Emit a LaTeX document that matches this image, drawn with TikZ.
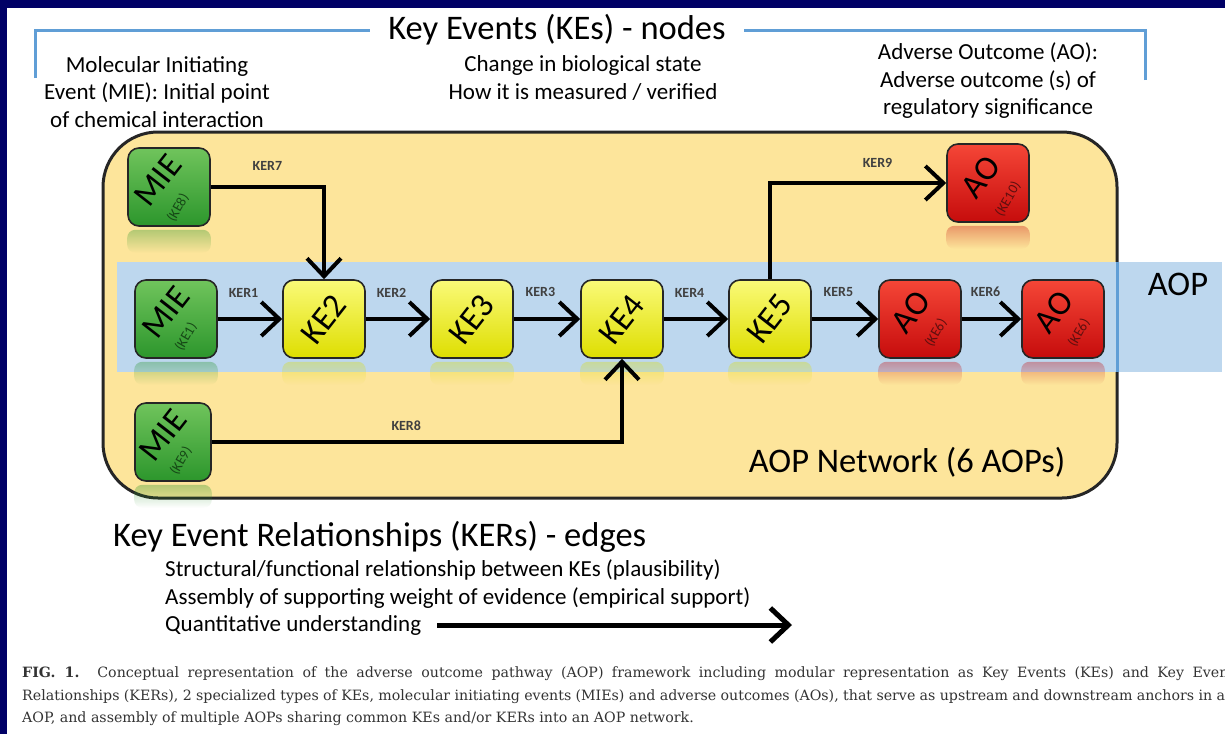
\documentclass[tikz,border=0pt]{standalone}
\usepackage{fontspec}
\setmainfont{Carlito}
\newfontfamily\capfont{DejaVu Serif}
\usetikzlibrary{arrows.meta,fadings}

\definecolor{navyframe}{RGB}{0,0,102}
\definecolor{netyellow}{RGB}{253,229,155}
\definecolor{aopblue}{RGB}{189,215,238}
\definecolor{bracketblue}{RGB}{96,158,214}
\definecolor{mietop}{RGB}{112,196,92}
\definecolor{miebot}{RGB}{44,150,44}
\definecolor{miedark}{RGB}{22,72,22}
\definecolor{ketop}{RGB}{250,250,120}
\definecolor{kebot}{RGB}{222,222,0}
\definecolor{aotop}{RGB}{245,70,55}
\definecolor{aobot}{RGB}{198,12,12}
\definecolor{aodark}{RGB}{95,15,15}

\tikzset{
  event/.style={draw=black!85, line width=1.6pt, rounded corners=11pt,
    minimum width=82pt, minimum height=78pt, inner sep=0pt},
  mienode/.style={event, top color=mietop, bottom color=miebot},
  kenode/.style={event, top color=ketop, bottom color=kebot},
  aonode/.style={event, top color=aotop, bottom color=aobot},
  bigtag/.style={rotate=52, inner sep=0pt, font=\fontsize{34}{34}\selectfont},
  smalltag/.style={rotate=60, inner sep=0pt, font=\fontsize{14}{14}\selectfont},
  reflect/.style={fill=#1, opacity=0.35, path fading=south, rounded corners=8pt},
  ker/.style={line width=4pt, -{Straight Barb[length=18pt,width=34pt]}},
  kerlbl/.style={inner sep=0pt, text=black!75, font=\fontsize{14}{14}\selectfont\bfseries},
  heading/.style={inner sep=0pt, font=\fontsize{34.5}{34.5}\selectfont},
  subtext/.style={align=center, inner sep=0pt, font=\fontsize{23}{27.5}\selectfont},
  bracket/.style={draw=bracketblue, line width=3pt},
  caption/.style={inner sep=0pt, text=black!80, font=\capfont\fontsize{14.2}{14.2}\selectfont},
}

\begin{document}
\begin{tikzpicture}[x=1pt, y=-1pt]
\path[clip] (0,0) rectangle (1225,734);
\fill[white] (0,0) rectangle (1225,734);
\fill[navyframe] (0,0) rectangle (1225,8);
\fill[navyframe] (0,0) rectangle (7,734);

% key events heading
\node[heading, inner xsep=18pt] (kes) at (557,30) {Key Events (KEs) - nodes};
\coordinate (bl) at (35,78);
\coordinate (br) at (1145,80);
\draw[bracket] (bl) |- (kes.west);
\draw[bracket] (br) |- (kes.east);
\node[subtext] (mietxt) at (157,92) {Molecular Initiating\\Event (MIE): Initial point\\of chemical interaction};
\node[subtext] (ketxt) at (583,78) {Change in biological state\\How it is measured / verified};
\node[subtext] (aotxt) at (988,81) {Adverse Outcome (AO):\\Adverse outcome (s) of\\regulatory significance};

% network box and aop band
\path[draw=black!85, line width=3pt, fill=netyellow, rounded corners=55pt] (103,132) rectangle (1117,498);
\fill[aopblue] (117,262) rectangle (1222,372);
\draw[bracketblue, line width=3pt] (1117,262) -- (1117,372);
\node[heading] (aop) at (1178,284) {AOP};
\node[heading] (network) at (907,462) {AOP Network (6 AOPs)};

% events
\node[mienode] (mie8) at (169,187) {};
\node[mienode] (mie1) at (176,319) {};
\node[kenode] (ke2) at (324,319) {};
\node[kenode] (ke3) at (472,319) {};
\node[kenode] (ke4) at (622,319) {};
\node[kenode] (ke5) at (770,319) {};
\node[aonode] (ao6a) at (920,319) {};
\node[aonode] (ao6b) at (1063,319) {};
\node[aonode] (ao10) at (988,183) {};
\node[mienode, minimum width=76pt] (mie9) at (173,442) {};

% reflections
\fill[reflect=miebot] ([yshift=-3pt]mie8.south west) rectangle ([yshift=-26pt]mie8.south east);
\fill[reflect=miebot] ([yshift=-3pt]mie1.south west) rectangle ([yshift=-26pt]mie1.south east);
\fill[reflect=miebot] ([yshift=-3pt]mie9.south west) rectangle ([yshift=-26pt]mie9.south east);
\fill[reflect=kebot] ([yshift=-3pt]ke2.south west) rectangle ([yshift=-26pt]ke2.south east);
\fill[reflect=kebot] ([yshift=-3pt]ke3.south west) rectangle ([yshift=-26pt]ke3.south east);
\fill[reflect=kebot] ([yshift=-3pt]ke4.south west) rectangle ([yshift=-26pt]ke4.south east);
\fill[reflect=kebot] ([yshift=-3pt]ke5.south west) rectangle ([yshift=-26pt]ke5.south east);
\fill[reflect=aobot] ([yshift=-3pt]ao6a.south west) rectangle ([yshift=-26pt]ao6a.south east);
\fill[reflect=aobot] ([yshift=-3pt]ao6b.south west) rectangle ([yshift=-26pt]ao6b.south east);
\fill[reflect=aobot] ([yshift=-3pt]ao10.south west) rectangle ([yshift=-26pt]ao10.south east);

% event texts
\node[bigtag] (mie8a) at ([shift={(-11,-7)}]mie8.center) {MIE};
\node[smalltag, text=miedark] (mie8b) at ([shift={(9,21)}]mie8.center) {(KE8)};
\node[bigtag] (mie1a) at ([shift={(-10,-7)}]mie1.center) {MIE};
\node[smalltag, text=miedark] (mie1b) at ([shift={(10,18)}]mie1.center) {(KE1)};
\node[bigtag] (mie9a) at ([shift={(-10,-7)}]mie9.center) {MIE};
\node[smalltag, text=miedark] (mie9b) at ([shift={(8,19)}]mie9.center) {(KE9)};
\node[bigtag] (ke2a) at (ke2.center) {KE2};
\node[bigtag] (ke3a) at (ke3.center) {KE3};
\node[bigtag] (ke4a) at (ke4.center) {KE4};
\node[bigtag] (ke5a) at (ke5.center) {KE5};
\node[bigtag] (ao6aa) at ([shift={(-9,-7)}]ao6a.center) {AO};
\node[smalltag, text=aodark] (ao6ab) at ([shift={(16,14)}]ao6a.center) {(KE6)};
\node[bigtag] (ao6ba) at ([shift={(-9,-7)}]ao6b.center) {AO};
\node[smalltag, text=aodark] (ao6bb) at ([shift={(16,14)}]ao6b.center) {(KE6)};
\node[bigtag] (ao10a) at ([shift={(-7,-6)}]ao10.center) {AO};
\node[smalltag, text=aodark] (ao10b) at ([shift={(20,16)}]ao10.center) {(KE10)};

% relationships
\draw[ker] (mie1) -- node[kerlbl, above=20pt, pos=0.4] {KER1} (ke2);
\draw[ker] (ke2) -- node[kerlbl, above=20pt, pos=0.4] {KER2} (ke3);
\draw[ker] (ke3) -- node[kerlbl, above=20pt, pos=0.4] {KER3} (ke4);
\draw[ker] (ke4) -- node[kerlbl, above=20pt, pos=0.4] {KER4} (ke5);
\draw[ker] (ke5) -- node[kerlbl, above=20pt, pos=0.4] {KER5} (ao6a);
\draw[ker] (ao6a) -- node[kerlbl, above=20pt, pos=0.4] {KER6} (ao6b);
\draw[ker] (mie8) -| node[kerlbl, above=15pt, pos=0.25] {KER7} (ke2);
\draw[ker] (mie9) -| node[kerlbl, above=9pt, pos=0.237] {KER8} (ke4);
\draw[ker] (ke5) |- node[kerlbl, above=14pt, pos=0.805] {KER9} (ao10);

% key event relationships
\node[heading, anchor=west] (kers) at (113,537) {Key Event Relationships (KERs) - edges};
\node[subtext, anchor=west] (plaus) at (165,570) {Structural/functional relationship between KEs (plausibility)};
\node[subtext, anchor=west] (woe) at (165,598) {Assembly of supporting weight of evidence (empirical support)};
\node[subtext, anchor=west] (quant) at (165,625) {Quantitative understanding};
\coordinate (qend) at (792,625);
\draw[ker, line width=5pt] ([xshift=16pt]quant.east) -- (qend);

% caption
\node[caption, anchor=west] (cap1) at (22,674) {\makebox[1212pt][s]{\textbf{FIG. 1.} Conceptual representation of the adverse outcome pathway (AOP) framework including modular representation as Key Events (KEs) and Key Event}};
\node[caption, anchor=west] (cap2) at (22,697) {\makebox[1212pt][s]{Relationships (KERs), 2 specialized types of KEs, molecular initiating events (MIEs) and adverse outcomes (AOs), that serve as upstream and downstream anchors in an}};
\node[caption, anchor=west] (cap3) at (22,719) {AOP, and assembly of multiple AOPs sharing common KEs and/or KERs into an AOP network.};
\end{tikzpicture}
\end{document}
